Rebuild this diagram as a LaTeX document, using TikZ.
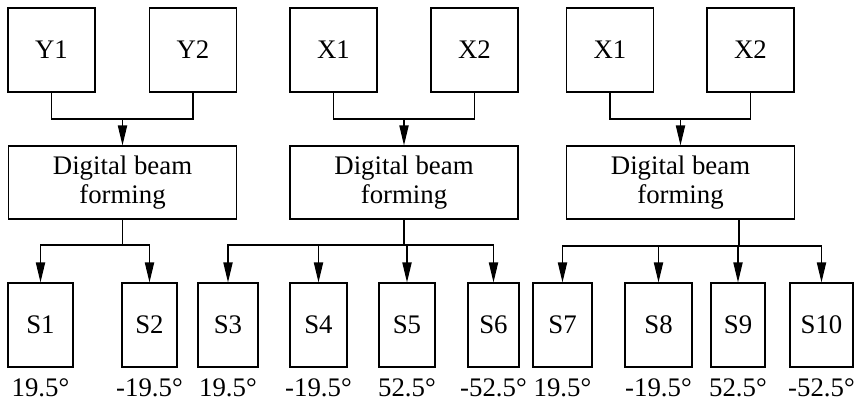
\documentclass[tikz,border=0pt]{standalone}
\usepackage{fontspec}
\setmainfont{Liberation Serif}
\usetikzlibrary{arrows.meta}
\tikzset{>={Triangle[length=10pt,width=4.6pt]}}

\begin{document}
\begin{tikzpicture}[x=0.5pt,y=-0.5pt,line width=0.6pt,
  font=\fontsize{13.4}{14.2}\selectfont,
  elem/.style={draw,inner sep=0pt,minimum width=43.5pt,minimum height=42pt},
  dbf/.style={draw,inner sep=0pt,minimum width=114pt,minimum height=36.5pt,align=center},
  sbox/.style={draw,inner sep=0pt,minimum height=42pt}]
\useasboundingbox (0,0) rectangle (864,404);
% antenna elements
\node[elem] (y1) at (51.5,50) {Y1};
\node[elem] (y2) at (193,50) {Y2};
\node[elem] (xa1) at (333.5,50) {X1};
\node[elem] (xa2) at (474.5,50) {X2};
\node[elem] (xb1) at (610,50) {X1};
\node[elem] (xb2) at (750.5,50) {X2};
% beam forming
\node[dbf] (dbf1) at (122.5,182.5) {Digital beam\\forming};
\node[dbf] (dbf2) at (404,182.5) {Digital beam\\forming};
\node[dbf] (dbf3) at (680.5,182.5) {Digital beam\\forming};
\coordinate (m1) at (122.5,119);
\coordinate (m2) at (404,119);
\coordinate (m3) at (680.5,119);
\draw (y1.south) |- (m1) -| (y2.south);
\draw (xa1.south) |- (m2) -| (xa2.south);
\draw (xb1.south) |- (m3) -| (xb2.south);
\draw[->] (m1) -- (dbf1.north);
\draw[->] (m2) -- (dbf2.north);
\draw[->] (m3) -- (dbf3.north);
% beams
\foreach \n/\x/\w/\a in {1/40.5/65/19.5°, 2/149.5/55/-19.5°, 3/228/60/19.5°,
  4/318.5/57/-19.5°, 5/407/56/52.5°, 6/493.5/51/-52.5°, 7/562.5/59/19.5°,
  8/658.5/67/-19.5°, 9/738/54/52.5°, 10/821.5/63/-52.5°}
{
\node[sbox,minimum width=\w*0.5pt] (s\n) at (\x,325) {S\n};
\node[anchor=base] (ang\n) at (\x,396) {\a};
}
\coordinate (j1) at (122.5,245);
\coordinate (j2) at (404,245);
\coordinate (j3) at (739,246);
\draw (dbf1.south) -- (j1);
\draw (dbf2.south) -- (j2);
\draw (j3 |- dbf3.south) -- (j3);
\foreach \s in {s1,s2}
\draw[->] (j1) -| (\s.north);
\foreach \s in {s3,s4,s5,s6}
\draw[->] (j2) -| (\s.north);
\foreach \s in {s7,s8,s9,s10}
\draw[->] (j3) -| (\s.north);
\end{tikzpicture}
\end{document}
